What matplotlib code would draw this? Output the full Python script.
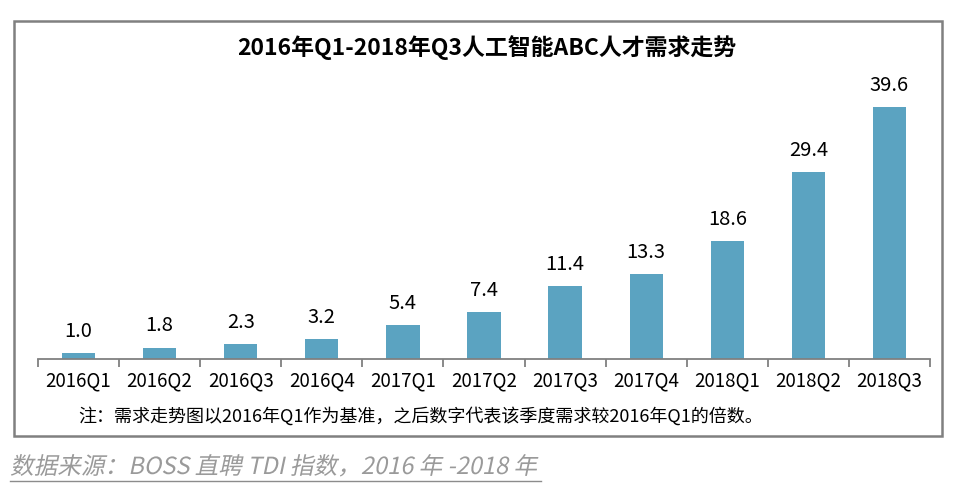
import matplotlib.pyplot as plt
from matplotlib.patches import Rectangle, PathPatch
from matplotlib.lines import Line2D
from matplotlib.textpath import TextPath
from matplotlib.font_manager import FontProperties
from matplotlib.transforms import Affine2D

plt.rcParams['font.family'] = ['Noto Sans CJK SC', 'DejaVu Sans']

quarters = ['2016Q1', '2016Q2', '2016Q3', '2016Q4', '2017Q1', '2017Q2',
            '2017Q3', '2017Q4', '2018Q1', '2018Q2', '2018Q3']
demand = [1.0, 1.8, 2.3, 3.2, 5.4, 7.4, 11.4, 13.3, 18.6, 29.4, 39.6]

W, H = 959, 499
fig = plt.figure(figsize=(W / 100, H / 100), dpi=100)

# outer frame
fig.patches.append(Rectangle((14 / W, 1 - 436 / H), (942 - 14) / W, (436 - 21) / H,
                             transform=fig.transFigure, fill=False,
                             edgecolor='#808080', linewidth=1.8))

ax = fig.add_axes([38 / W, 1 - 359 / H, (930 - 38) / W, (359 - 79) / H])
x = range(len(quarters))
bars = ax.bar(x, demand, width=0.41, color='#5BA3C1')
for b, v in zip(bars, demand):
    ax.annotate(f'{v:.1f}', (b.get_x() + b.get_width() / 2, v), xytext=(0, 8),
                textcoords='offset points', ha='center', va='bottom', fontsize=14.5)

ax.set_xlim(-0.5, len(quarters) - 0.5)
ax.set_ylim(0, 44)
ax.set_xticks([i - 0.5 for i in range(len(quarters) + 1)], minor=False)
ax.set_xticklabels([])
ax.set_xticks(list(x), minor=True)
ax.set_xticklabels(quarters, minor=True, fontsize=13.5)
ax.tick_params(axis='x', which='major', length=6, width=1.3, color='#808080')
ax.tick_params(axis='x', which='minor', length=0, pad=8)
ax.set_yticks([])
for s in ['top', 'right', 'left']:
    ax.spines[s].set_visible(False)
ax.spines['bottom'].set_color('#808080')
ax.spines['bottom'].set_linewidth(1.3)

fig.text(487 / W, 1 - 48 / H, '2016年Q1-2018年Q3人工智能ABC人才需求走势',
         ha='center', va='center', fontsize=16.5, fontweight='bold')
fig.text(78 / W, 1 - 416 / H,
         '注：需求走势图以2016年Q1作为基准，之后数字代表该季度需求较2016年Q1的倍数。',
         ha='left', va='center', fontsize=13)

# source line, slanted by hand since the CJK font has no italic
src = '数据来源：BOSS 直聘 TDI 指数，2016 年 -2018 年'
fp = FontProperties(family='Noto Sans CJK SC')
tp = TextPath((0, 0), src, size=10, prop=fp)
size = 10 * (525 * 0.72) / tp.get_extents().width
tp = TextPath((0, 0), src, size=size, prop=fp)
tr = (Affine2D().skew_deg(12, 0).scale(1 / 72)
      .translate(10 / 100, (H - 474) / 100) + fig.dpi_scale_trans)
fig.patches.append(PathPatch(tp, transform=tr, facecolor='#9a9a9a',
                             edgecolor='none'))
fig.lines.append(Line2D([10 / W, 541 / W], [1 - 481 / H, 1 - 481 / H],
                        transform=fig.transFigure, color='#8c8c8c', linewidth=1))

fig.savefig('out.png', dpi=100)
